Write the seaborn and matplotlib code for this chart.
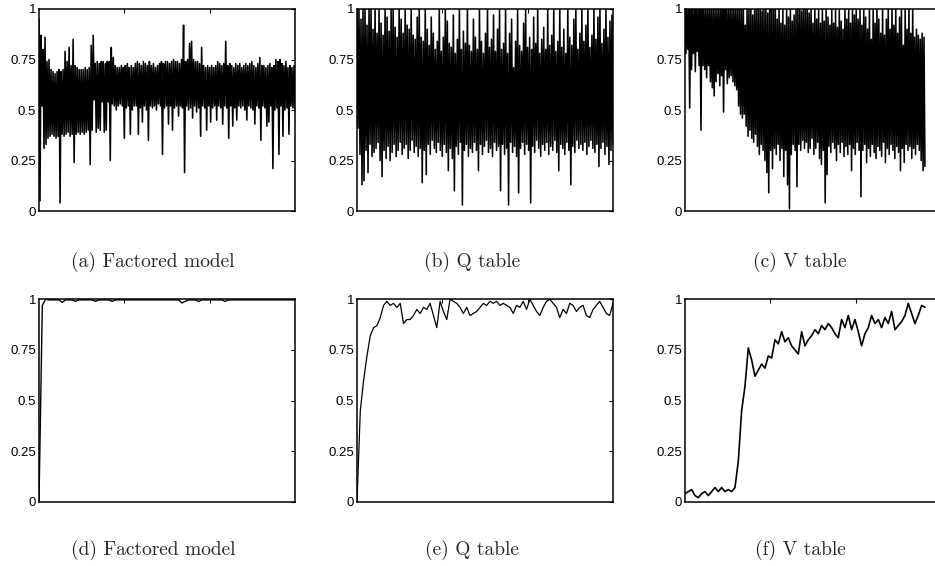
import numpy as np
import seaborn as sns
import matplotlib.pyplot as plt

# top row: the raw per-episode signal, read as alternating upper peaks / lower troughs
a_peaks = [0.95, 0.87, 0.80, 0.86, 0.74, 0.75, 0.70, 0.69,
           0.68, 0.69, 0.70, 0.69, 0.70, 0.79, 0.74, 0.81,
           0.72, 0.85, 0.72, 0.71, 0.70, 0.70, 0.70, 0.71,
           0.70, 0.71, 0.82, 0.87, 0.73, 0.74, 0.73, 0.74,
           0.74, 0.73, 0.74, 0.74, 0.81, 0.76, 0.72, 0.71,
           0.71, 0.72, 0.71, 0.72, 0.73, 0.71, 0.72, 0.71,
           0.73, 0.74, 0.73, 0.72, 0.74, 0.73, 0.72, 0.74,
           0.72, 0.73, 0.71, 0.72, 0.73, 0.74, 0.73, 0.74,
           0.74, 0.73, 0.74, 0.75, 0.74, 0.74, 0.73, 0.75,
           0.92, 0.74, 0.75, 0.83, 0.84, 0.75, 0.74, 0.74,
           0.73, 0.81, 0.72, 0.71, 0.72, 0.71, 0.72, 0.71,
           0.72, 0.74, 0.73, 0.72, 0.73, 0.84, 0.72, 0.73,
           0.72, 0.71, 0.73, 0.72, 0.73, 0.71, 0.72, 0.73,
           0.72, 0.73, 0.74, 0.72, 0.71, 0.73, 0.76, 0.72,
           0.72, 0.71, 0.72, 0.73, 0.71, 0.72, 0.75, 0.74,
           0.75, 0.73, 0.72, 0.74, 0.71, 0.72, 0.71, 0.72]
a_troughs = [0.05, 0.52, 0.31, 0.33, 0.36, 0.37, 0.38, 0.37,
             0.36, 0.37, 0.04, 0.38, 0.37, 0.38, 0.39, 0.37,
             0.38, 0.24, 0.38, 0.39, 0.38, 0.39, 0.38, 0.39,
             0.40, 0.23, 0.40, 0.55, 0.39, 0.41, 0.40, 0.54,
             0.39, 0.40, 0.54, 0.25, 0.53, 0.52, 0.50, 0.52,
             0.53, 0.52, 0.36, 0.51, 0.52, 0.38, 0.50, 0.52,
             0.52, 0.38, 0.51, 0.44, 0.52, 0.50, 0.35, 0.52,
             0.51, 0.52, 0.50, 0.53, 0.52, 0.28, 0.51, 0.52,
             0.43, 0.52, 0.40, 0.51, 0.52, 0.47, 0.52, 0.51,
             0.19, 0.52, 0.50, 0.51, 0.46, 0.52, 0.49, 0.51,
             0.37, 0.52, 0.51, 0.40, 0.52, 0.44, 0.51, 0.52,
             0.45, 0.52, 0.51, 0.43, 0.52, 0.51, 0.36, 0.52,
             0.42, 0.51, 0.45, 0.52, 0.51, 0.52, 0.50, 0.45,
             0.52, 0.51, 0.50, 0.43, 0.52, 0.51, 0.35, 0.52,
             0.51, 0.42, 0.44, 0.52, 0.21, 0.50, 0.51, 0.28,
             0.52, 0.37, 0.50, 0.51, 0.38, 0.52, 0.51, 0.50]

b_peaks = [1.0, 1.0, 0.95, 1.0, 1.0, 0.92, 1.0, 1.0,
           0.90, 1.0, 0.88, 1.0, 0.93, 0.87, 1.0, 0.96,
           0.89, 1.0, 1.0, 0.91, 0.86, 1.0, 0.95, 0.88,
           1.0, 0.92, 0.90, 1.0, 0.87, 0.85, 0.96, 1.0,
           0.86, 0.84, 1.0, 0.90, 0.82, 0.96, 0.88, 0.80,
           0.84, 1.0, 0.79, 0.86, 1.0, 0.94, 0.83, 0.81,
           0.97, 0.78, 0.85, 1.0, 0.80, 0.89, 0.83, 1.0,
           0.82, 0.79, 0.95, 0.86, 0.80, 1.0, 0.84, 0.78,
           0.88, 1.0, 0.81, 0.85, 0.97, 0.79, 0.90, 1.0,
           0.80, 0.83, 1.0, 0.78, 0.88, 0.95, 0.71, 0.84,
           1.0, 0.82, 0.79, 0.93, 1.0, 0.81, 0.86, 0.80,
           0.96, 0.83, 1.0, 0.78, 0.85, 0.91, 0.80, 1.0,
           0.82, 0.87, 1.0, 0.79, 0.84, 1.0, 0.81, 0.90,
           0.78, 1.0, 0.86, 0.82, 0.95, 1.0, 0.80, 0.88,
           1.0, 0.84, 0.92, 1.0, 0.81, 0.87, 1.0, 0.85,
           0.96, 1.0, 0.83, 0.90, 1.0, 0.86, 0.94, 0.97]
b_troughs = [0.41, 0.28, 0.13, 0.15, 0.30, 0.19, 0.33, 0.27,
             0.29, 0.31, 0.34, 0.25, 0.17, 0.30, 0.26, 0.32,
             0.25, 0.29, 0.33, 0.27, 0.30, 0.34, 0.28, 0.31,
             0.33, 0.26, 0.30, 0.35, 0.29, 0.32, 0.27, 0.31,
             0.14, 0.30, 0.18, 0.33, 0.28, 0.35, 0.31, 0.29,
             0.34, 0.30, 0.27, 0.33, 0.29, 0.20, 0.31, 0.26,
             0.10, 0.32, 0.28, 0.34, 0.03, 0.30, 0.33, 0.27,
             0.31, 0.29, 0.34, 0.30, 0.20, 0.33, 0.28, 0.32,
             0.35, 0.29, 0.31, 0.27, 0.34, 0.30, 0.32, 0.10,
             0.33, 0.28, 0.31, 0.03, 0.34, 0.29, 0.32, 0.27,
             0.09, 0.31, 0.34, 0.28, 0.33, 0.30, 0.04, 0.32,
             0.29, 0.35, 0.31, 0.27, 0.33, 0.30, 0.34, 0.28,
             0.32, 0.30, 0.35, 0.29, 0.20, 0.33, 0.31, 0.28,
             0.34, 0.30, 0.13, 0.32, 0.29, 0.35, 0.31, 0.33,
             0.30, 0.34, 0.28, 0.32, 0.35, 0.31, 0.29, 0.33,
             0.22, 0.31, 0.34, 0.28, 0.32, 0.23, 0.30, 0.33]

c_peaks = [1.0] * 32 + [
           0.92, 1.0, 1.0, 1.0, 0.97, 1.0, 1.0, 1.0,
           1.0, 0.99, 1.0, 1.0, 0.98, 1.0, 1.0, 1.0,
           1.0, 0.95, 1.0, 0.93, 1.0, 0.92, 1.0, 0.96,
           1.0, 0.94, 0.97, 1.0, 1.0, 1.0, 0.99, 1.0,
           1.0, 1.0, 0.98, 1.0, 0.93, 1.0, 0.95, 1.0,
           0.93, 1.0, 0.94, 1.0, 0.96, 0.92, 1.0, 0.93,
           1.0, 0.91, 1.0, 0.94, 0.90, 1.0, 0.95, 1.0,
           0.93, 1.0, 0.97, 1.0, 0.95, 1.0, 0.92, 1.0,
           0.96, 0.90, 1.0, 0.85, 1.0, 0.93, 1.0, 0.95,
           0.88, 1.0, 0.87, 0.95, 1.0, 0.90, 1.0, 0.92,
           1.0, 0.88, 0.96, 1.0, 0.82, 1.0, 0.90, 1.0,
           0.88, 1.0, 0.86, 0.90, 0.87, 0.85, 0.88, 0.86]
c_troughs = [0.78, 0.80, 0.51, 0.70, 0.78, 0.69, 0.79, 0.72,
             0.40, 0.72, 0.70, 0.66, 0.72, 0.64, 0.61, 0.57,
             0.64, 0.68, 0.62, 0.67, 0.49, 0.70, 0.63, 0.66,
             0.67, 0.64, 0.62, 0.60, 0.52, 0.48, 0.46, 0.48,
             0.42, 0.37, 0.40, 0.36, 0.34, 0.38, 0.32, 0.28,
             0.33, 0.30, 0.25, 0.19, 0.09, 0.30, 0.21, 0.31,
             0.28, 0.33, 0.25, 0.31, 0.17, 0.30, 0.13, 0.01,
             0.28, 0.33, 0.30, 0.12, 0.33, 0.30, 0.35, 0.31,
             0.34, 0.29, 0.31, 0.36, 0.28, 0.31, 0.34, 0.26,
             0.23, 0.30, 0.04, 0.18, 0.32, 0.29, 0.34, 0.31,
             0.25, 0.33, 0.29, 0.34, 0.27, 0.32, 0.28, 0.33,
             0.20, 0.31, 0.28, 0.34, 0.30, 0.07, 0.30, 0.33,
             0.24, 0.31, 0.27, 0.33, 0.29, 0.26, 0.32, 0.30,
             0.27, 0.34, 0.24, 0.31, 0.28, 0.33, 0.30, 0.26,
             0.32, 0.29, 0.20, 0.31, 0.24, 0.33, 0.30, 0.32,
             0.26, 0.31, 0.28, 0.33, 0.30, 0.25, 0.20, 0.22]

# bottom row: smoothed success rate
d_vals = [0.0, 0.97, 1.0, 0.997, 0.997, 0.997, 0.997, 0.985, 0.997, 0.997,
          0.997, 0.99, 0.997, 0.997, 0.997, 0.997, 0.997, 0.99, 0.997, 0.997,
          0.997, 0.997, 0.99, 0.997, 0.997, 0.997, 0.997, 0.997, 0.997, 0.997,
          0.997, 0.997, 0.997, 0.997, 0.997, 0.997, 0.997, 0.997, 0.997, 0.997,
          0.997, 0.997, 0.997, 0.982, 0.99, 0.997, 0.997, 0.997, 0.99, 0.997,
          0.997, 0.997, 0.997, 0.997, 0.997, 0.997, 0.99, 0.997, 0.997, 0.997,
          0.997, 0.997, 0.997, 0.997, 0.997, 0.997, 0.997, 0.997, 0.997, 0.997,
          0.997, 0.997, 0.997, 0.997, 0.997, 0.997, 0.997, 0.997]
e_vals = [0.0, 0.45, 0.60, 0.72, 0.82, 0.86, 0.87, 0.91, 0.97, 0.99,
          0.97, 0.98, 0.96, 0.98, 0.88, 0.90, 0.90, 0.92, 0.95, 0.93,
          0.96, 0.95, 0.98, 0.92, 0.86, 0.99, 0.94, 0.90, 1.0, 0.99,
          0.98, 0.96, 0.93, 0.96, 0.92, 0.93, 0.94, 0.96, 0.98, 0.97,
          0.99, 0.98, 0.99, 0.97, 0.98, 0.97, 0.96, 0.93, 0.97, 0.96,
          0.99, 0.95, 1.0, 0.97, 0.94, 0.92, 0.96, 0.99, 1.0, 0.98,
          0.96, 0.91, 0.95, 0.93, 0.98, 0.97, 0.94, 0.96, 0.97, 0.92,
          0.91, 0.95, 0.97, 0.99, 0.96, 0.93, 0.92, 0.98]
f_vals = [0.04, 0.05, 0.06, 0.03, 0.02, 0.04, 0.05, 0.03, 0.05, 0.07,
          0.05, 0.07, 0.05, 0.06, 0.05, 0.07, 0.20, 0.45, 0.57, 0.76,
          0.70, 0.62, 0.65, 0.68, 0.66, 0.72, 0.71, 0.80, 0.78, 0.84,
          0.79, 0.81, 0.77, 0.75, 0.73, 0.84, 0.77, 0.80, 0.82, 0.85,
          0.83, 0.87, 0.85, 0.88, 0.86, 0.83, 0.81, 0.90, 0.86, 0.92,
          0.85, 0.90, 0.84, 0.77, 0.83, 0.86, 0.92, 0.88, 0.90, 0.86,
          0.91, 0.88, 0.94, 0.85, 0.87, 0.89, 0.92, 0.98, 0.93, 0.88,
          0.92, 0.97, 0.96]

n_episodes = 3000
v_episodes = 2812   # the V table runs stop a bit short of the axis end

captions_top = ['(a) Factored model', '(b) Q table', '(c) V table']
captions_bot = ['(d) Factored model', '(e) Q table', '(f) V table']
yticks = [0, 0.25, 0.5, 0.75, 1]
ytick_labels = ['0', '0.25', '0.5', '0.75', '1']

sns.set_style('white')
plt.rcParams['font.family'] = ['Liberation Sans', 'DejaVu Sans']

fig = plt.figure(figsize=(9.35, 5.66), dpi=100)

lefts = [0.0417, 0.3818, 0.7326]
width = 0.2738
cap_x = [0.1636, 0.5048, 0.8556]


def zigzag(peaks, troughs):
    out = []
    for p, t in zip(peaks, troughs):
        out += [p, t]
    return np.array(out)


def style(ax):
    ax.set_xlim(0, n_episodes)
    ax.set_ylim(0, 1)
    ax.set_xticks([1000, 2000])
    ax.set_xticklabels([])
    ax.set_yticks(yticks)
    ax.set_yticklabels(ytick_labels)
    ax.tick_params(direction='in', top=True, right=True, length=3, width=0.8,
                   pad=2, labelsize=9.5, colors='black')
    for s in ax.spines.values():
        s.set_color('black')
        s.set_linewidth(1.1)
    ax.set_xlabel('')
    ax.set_ylabel('')


top_series = [(a_peaks, a_troughs, n_episodes), (b_peaks, b_troughs, n_episodes),
              (c_peaks, c_troughs, v_episodes)]
for i, (pk, tr, n) in enumerate(top_series):
    ax = fig.add_axes([lefts[i], 0.6272, width, 0.3569])
    y = zigzag(pk, tr)
    x = np.linspace(0, n, len(y))
    sns.lineplot(x=x, y=y, ax=ax, color='black', linewidth=1.15,
                 estimator=None, sort=False)
    style(ax)
    fig.text(cap_x[i], 0.537, captions_top[i], family='cmr10', fontsize=14,
             ha='center', va='center')

bot_series = [(d_vals, n_episodes, 1.0), (e_vals, n_episodes, 0.9), (f_vals, v_episodes, 1.2)]
for i, (vals, n, lw) in enumerate(bot_series):
    ax = fig.add_axes([lefts[i], 0.1136, width, 0.3576])
    x = np.linspace(0, n, len(vals))
    sns.lineplot(x=x, y=vals, ax=ax, color='black', linewidth=lw,
                 estimator=None, sort=False)
    style(ax)
    fig.text(cap_x[i], 0.028, captions_bot[i], family='cmr10', fontsize=14,
             ha='center', va='center')

fig.savefig('out.png', dpi=100)
